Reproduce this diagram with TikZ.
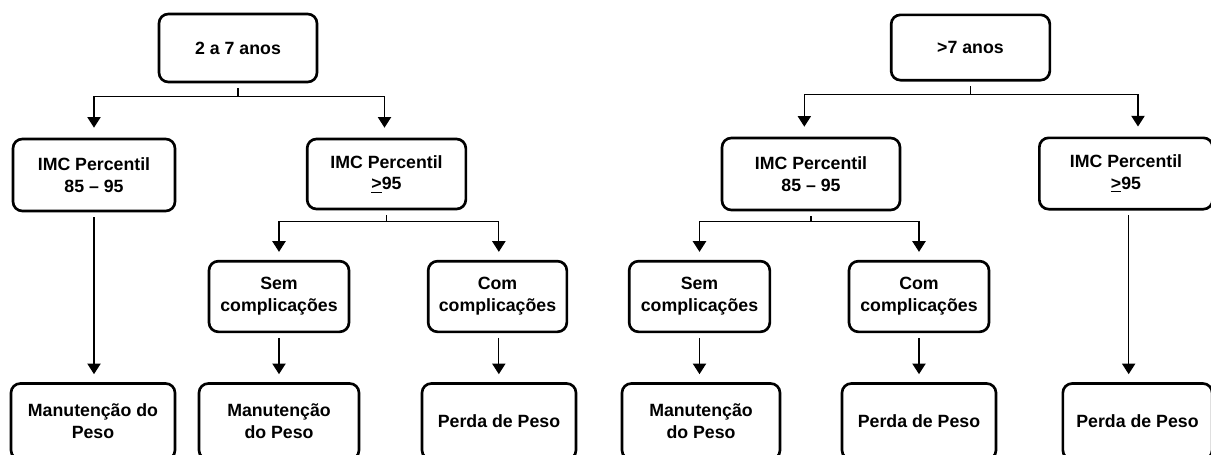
\documentclass[tikz,border=0pt]{standalone}
\usepackage{fontspec}
\setmainfont{Liberation Sans}
\usetikzlibrary{arrows.meta}

\begin{document}
\begin{tikzpicture}[x=0.75pt,y=-0.75pt,
  box/.style={draw, line width=2pt, rounded corners=7pt, align=center, inner sep=2pt,
    font=\fontsize{13.3}{16.3}\selectfont\bfseries},
  link/.style={line width=0.9pt, -{Triangle[width=10pt,length=8pt]},
    shorten <=3.5pt, shorten >=6pt},
  split/.style={link, shorten >=7.5pt}]
\useasboundingbox (0,0) rectangle (1211,454);
% left tree
\node[box, minimum width=118.5pt, minimum height=51pt] (age1) at (238,48) {2 a 7 anos};
\node[box, minimum width=121.5pt, minimum height=54pt] (low1) at (94,175) {IMC Percentil\\85 -- 95};
\node[box, minimum width=119pt, minimum height=52.5pt] (high1) at (386.5,174) {IMC Percentil\\\underline{>}95};
\node[box, minimum width=105pt, minimum height=53pt] (sem1) at (279,296.5) {Sem\\complicações};
\node[box, minimum width=104pt, minimum height=53pt] (com1) at (497.5,296.5) {Com\\complicações};
\node[box, minimum width=123pt, minimum height=57pt] (keep1) at (93,421.5) {Manutenção do\\Peso};
\node[box, minimum width=120pt, minimum height=57pt] (keep2) at (279,421.5) {Manutenção\\do Peso};
\node[box, minimum width=115.5pt, minimum height=57pt] (lose1) at (499,421.5) {Perda de Peso};
\draw[split] (age1.south) -- ++(0,13) -| (low1.north);
\draw[split] (age1.south) -- ++(0,13) -| ([xshift=-1.5pt]high1.north);
\draw[link] (low1.south) -- (low1.south |- keep1.north);
\draw[link] (high1.south) -- ++(0,11) -| (sem1.north);
\draw[link] (high1.south) -- ++(0,11) -| ([xshift=1pt]com1.north);
\draw[link] (sem1.south) -- (sem1.south |- keep2.north);
\draw[link] ([xshift=1pt]com1.south) -- ([xshift=1pt]com1.south |- lose1.north);
% right tree
\node[box, minimum width=119pt, minimum height=49pt] (age2) at (970.5,47.5) {>7 anos};
\node[box, minimum width=133.5pt, minimum height=54pt] (low2) at (811,174) {IMC Percentil\\85 -- 95};
\node[box, minimum width=130pt, minimum height=53.5pt] (high2) at (1126,173.5) {IMC Percentil\\\underline{>}95};
\node[box, minimum width=105.5pt, minimum height=53pt] (sem2) at (699.5,296.5) {Sem\\complicações};
\node[box, minimum width=105pt, minimum height=53pt] (com2) at (919,296.5) {Com\\complicações};
\node[box, minimum width=118.5pt, minimum height=57pt] (keep3) at (701,421.5) {Manutenção\\do Peso};
\node[box, minimum width=115.5pt, minimum height=57pt] (lose2) at (919,421.5) {Perda de Peso};
\node[box, minimum width=112pt, minimum height=57pt] (lose3) at (1137.5,421.5) {Perda de Peso};
\draw[split] (age2.south) -- ++(0,13) -| ([xshift=-5pt]low2.north);
\draw[split] (age2.south) -- ++(0,13) -| ([xshift=9pt]high2.north);
\draw[link] (low2.south) -- ++(0,10) -| (sem2.north);
\draw[link] (low2.south) -- ++(0,10) -| (com2.north);
\draw[link] (sem2.south) -- (sem2.south |- keep3.north);
\draw[link] (com2.south) -- (com2.south |- lose2.north);
\draw[link] ([xshift=2pt]high2.south) -- ([xshift=2pt]high2.south |- lose3.north);
\end{tikzpicture}
\end{document}
